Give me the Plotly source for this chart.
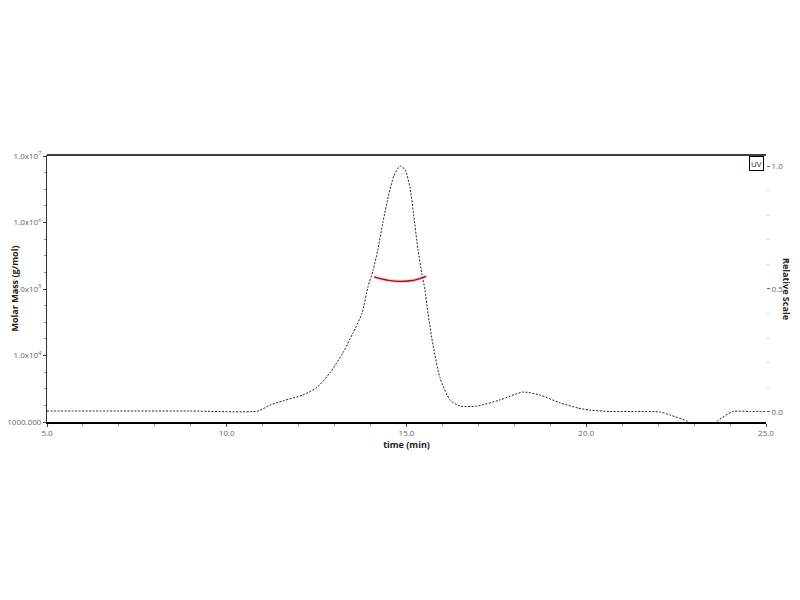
import plotly.graph_objects as go

# UV trace (relative scale)
uv_time = [5.0, 7.0, 9.0, 10.87, 11.2, 11.56, 12.12, 12.51, 12.87, 13.23, 13.51, 13.76, 13.93, 14.07,
           14.21, 14.35, 14.50, 14.65, 14.82, 14.96, 15.10, 15.20, 15.32, 15.43, 15.51, 15.60,
           15.74, 15.93, 16.21, 16.49, 16.96, 17.60, 18.24, 18.71, 19.27, 19.77, 20.10,
           20.66, 21.4, 22.05, 22.33, 22.80, 23.0, 23.3, 23.5, 23.64, 24.08, 24.55, 25.0]
uv_value = [0.004, 0.004, 0.004, 0.004, 0.028, 0.045, 0.069, 0.10, 0.159, 0.24, 0.321, 0.40, 0.51, 0.575,
            0.665, 0.775, 0.88, 0.96, 1.0, 0.985, 0.91, 0.80, 0.66, 0.56, 0.50, 0.40,
            0.27, 0.14, 0.049, 0.024, 0.024, 0.049, 0.081, 0.069, 0.037, 0.016, 0.008,
            0.002, 0.002, 0.0, -0.012, -0.037, -0.055, -0.065, -0.055, -0.037, 0.002, 0.002, 0.002]

# Molar mass (g/mol)
mm_time = [14.1, 14.3, 14.5, 14.8, 15.1, 15.3, 15.55]
mm_value = [1.52e5, 1.42e5, 1.35e5, 1.30e5, 1.33e5, 1.40e5, 1.55e5]

x_ticks = [5, 10, 15, 20, 25]
x_ticktext = ["5.0", "10.0", "15.0", "20.0", "25.0"]
mm_ticks = [1e3, 1e4, 1e5, 1e6, 1e7]
mm_ticktext = ["1000.000", "1.0x10<sup>4</sup>", "1.0x10<sup>5</sup>",
               "1.0x10<sup>6</sup>", "1.0x10<sup>7</sup>"]
rs_ticks = [0.0, 0.5, 1.0]
rs_ticktext = ["0.0", "0.5", "1.0"]

font = "Open Sans"
tick_col = "#666666"

fig = go.Figure()
fig.add_trace(go.Scatter(x=uv_time, y=uv_value, mode="lines", yaxis="y",
                         line=dict(color="#222222", width=1, dash="2px,1.5px", shape="spline", smoothing=0.6),
                         showlegend=False, hoverinfo="skip"))
fig.add_trace(go.Scatter(x=mm_time, y=mm_value, mode="lines", yaxis="y2",
                         line=dict(color="rgba(230,90,90,0.3)", width=3.5, shape="spline"),
                         showlegend=False, hoverinfo="skip"))
fig.add_trace(go.Scatter(x=mm_time, y=mm_value, mode="lines", yaxis="y2",
                         line=dict(color="#a01010", width=1.3, shape="spline"),
                         showlegend=False, hoverinfo="skip"))

minor_mm = []
for d in range(3, 7):
    for f in (0.25, 0.5, 0.75):
        minor_mm.append(10 ** (d + f))

fig.update_layout(
    width=800, height=600,
    margin=dict(l=39, r=42, t=147, b=186, autoexpand=False),
    paper_bgcolor="white", plot_bgcolor="white",
    font=dict(family=font, size=8, color=tick_col),
    xaxis=dict(range=[5, 25], tickvals=x_ticks, ticktext=x_ticktext, automargin=False,
               showgrid=False, zeroline=False, showline=True, linecolor="black", linewidth=1.5,
               ticks="outside", ticklen=3, tickcolor="#444",
               minor=dict(dtick=1, ticks="outside", ticklen=2, tickcolor="#888"),
               title=dict(text="<b>time (min)</b>", font=dict(size=9, color="#222"), standoff=2)),
    yaxis=dict(range=[-0.0407, 1.0447], side="right", tickvals=rs_ticks, ticktext=rs_ticktext,
               automargin=False,
               showgrid=False, zeroline=False, showline=False,
               ticks="outside", ticklen=3, tickcolor="#666",
               minor=dict(dtick=0.1, ticks="outside", ticklen=2, tickcolor="#ccc")),
    yaxis2=dict(type="log", range=[3, 7.015], overlaying="y", side="left",
                tickvals=mm_ticks, ticktext=mm_ticktext, automargin=False,
                showgrid=False, zeroline=False, showline=True, linecolor="#333", linewidth=1,
                ticks="outside", ticklen=3, tickcolor="#444",
                minor=dict(tickvals=minor_mm, ticks="outside", ticklen=2, tickcolor="#888"),
                title=dict(text="<b>Molar Mass (g/mol)</b>", font=dict(size=9, color="#222"), standoff=2)),
    shapes=[dict(type="line", xref="paper", yref="paper", x0=0, x1=1, y0=1, y1=1,
                 line=dict(color="black", width=1.5))],
    annotations=[
        dict(text="<b>Relative Scale</b>", xref="paper", yref="paper", x=1.0, y=0.5,
             xshift=29, textangle=90, showarrow=False, font=dict(size=9, color="#222")),
        dict(text="UV", xref="paper", yref="paper", x=0.997, y=0.995, xanchor="right", yanchor="top",
             showarrow=False, bordercolor="black", borderwidth=1, borderpad=1,
             bgcolor="white", font=dict(size=8, color="#333")),
    ],
)

fig.write_html("out.html")
